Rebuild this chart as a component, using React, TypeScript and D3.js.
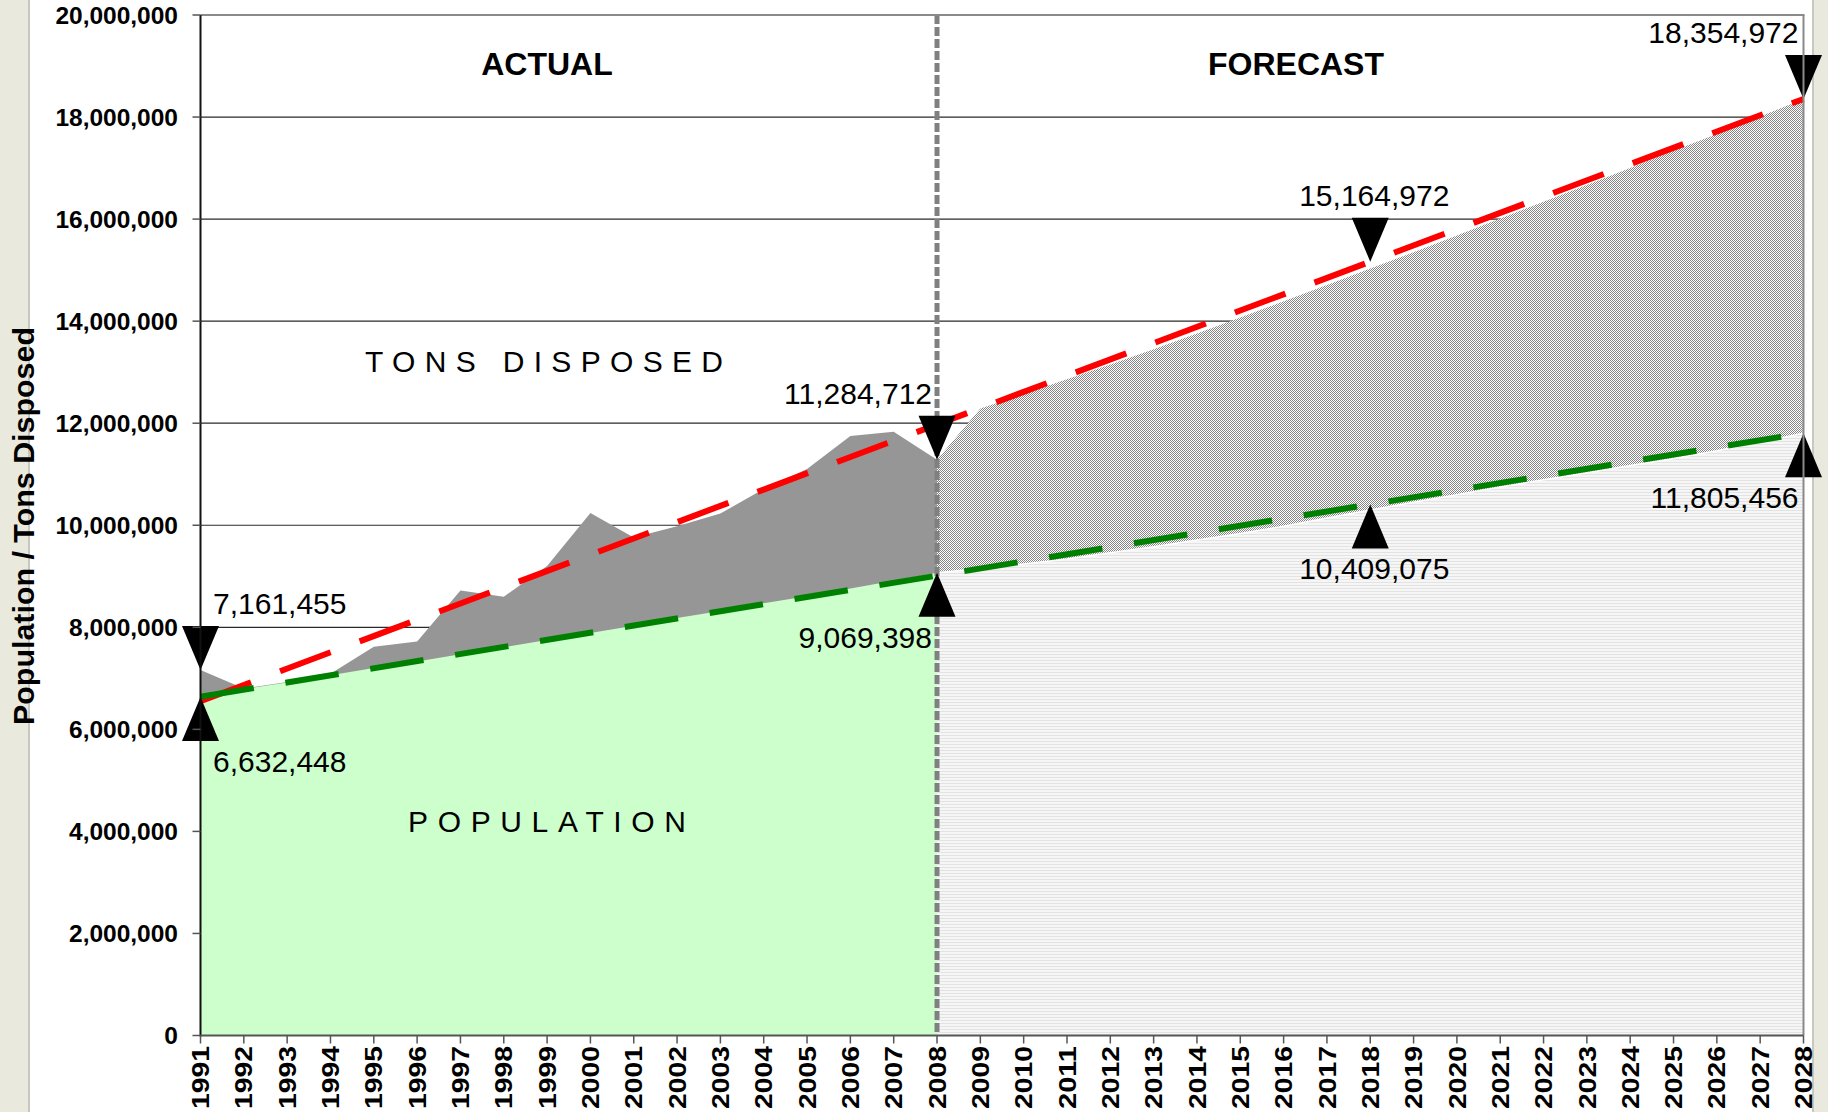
import React from "react";
import * as d3 from "d3";

// ---------- data ----------
const actualYears = [1991, 1992, 1993, 1994, 1995, 1996, 1997, 1998, 1999, 2000, 2001, 2002, 2003, 2004, 2005, 2006, 2007, 2008];
const tonsActual = [7161455, 6800000, 6930000, 7090000, 7620000, 7720000, 8720000, 8600000, 9200000, 10240000, 9760000, 9980000, 10230000, 10710000, 11100000, 11750000, 11830000, 11284712];
const popActual = [6632448, 6790000, 6920000, 7060000, 7200000, 7330000, 7470000, 7610000, 7750000, 7890000, 8030000, 8180000, 8320000, 8470000, 8610000, 8760000, 8910000, 9069398];

const forecastYears = [2008, 2009, 2010, 2011, 2012, 2013, 2014, 2015, 2016, 2017, 2018, 2019, 2020, 2021, 2022, 2023, 2024, 2025, 2026, 2027, 2028];
const tonsForecast = [11284712, 12290000, 12570000, 12860000, 13150000, 13450000, 13760000, 14070000, 14390000, 14710000, 15030000, 15350000, 15680000, 16010000, 16340000, 16670000, 17000000, 17340000, 17670000, 18010000, 18354972];
const popForecast = [9069398, 9150000, 9240000, 9340000, 9460000, 9580000, 9710000, 9840000, 9980000, 10140000, 10300000, 10450000, 10600000, 10750000, 10890000, 11030000, 11170000, 11310000, 11460000, 11630000, 11805456];

const trendYears = [1991, 2008, 2018, 2028];
const tonsTrend = [6552000, 11975000, 15164972, 18354972];
const popTrend = [6638848, 9012694, 10409075, 11805456];

const markerYears = [1991, 2008, 2018, 2028];
const markerTons = [7161455, 11284712, 15164972, 18354972];
const markerPop = [6632448, 9069398, 10409075, 11805456];

const allYears = d3.range(1991, 2029);
const yTicks = [0, 2000000, 4000000, 6000000, 8000000, 10000000, 12000000, 14000000, 16000000, 18000000, 20000000];

// ---------- layout ----------
const W = 1828, H = 1112;
const X0 = 200.5, X1 = 1803.5, Y0 = 1035.5, Y1 = 15;
const FONT = "'Liberation Sans', Arial, sans-serif";
const NARROW = "'Liberation Sans Narrow', 'Arial Narrow', 'Liberation Sans', Arial, sans-serif";

export default function App() {
  const x = d3.scaleLinear().domain([1991, 2028]).range([X0, X1]);
  const y = d3.scaleLinear().domain([0, 20000000]).range([Y0, Y1]);
  const fmt = d3.format(",");

  const area = d3.area<[number, number]>().x(d => x(d[0])).y0(y(0)).y1(d => y(d[1]));
  const line = d3.line<[number, number]>().x(d => x(d[0])).y(d => y(d[1]));
  const zip = (a: number[], b: number[]) => a.map((v, i) => [v, b[i]] as [number, number]);

  const triW = 37, triH = 44;

  return (
    <svg width={W} height={H} style={{ position: "absolute", left: 0, top: 0, background: "#fff" }} fontFamily={FONT}>
      <defs>
        <pattern id="hatch" patternUnits="userSpaceOnUse" width="2" height="2">
          <rect width="2" height="2" fill="#ffffff" />
          <rect x="0" y="0" width="1" height="1" fill="#858585" />
          <rect x="1" y="1" width="1" height="1" fill="#858585" />
        </pattern>
        <pattern id="hlines" patternUnits="userSpaceOnUse" width="6" height="3">
          <rect width="6" height="3" fill="#f6f6f6" />
          <rect width="6" height="1" fill="#e3e3e3" />
        </pattern>
      </defs>

      {/* side strips */}
      <rect x={0} y={0} width={28} height={H} fill="#e9e9de" />
      <rect x={28} y={0} width={2} height={H} fill="#c8c8c0" />
      <rect x={1812} y={0} width={2} height={H} fill="#c8c8c0" />
      <rect x={1814} y={0} width={W - 1814} height={H} fill="#e9e9de" />

      {/* gridlines */}
      {yTicks.filter(t => t > 0 && t < 20000000).map(t => (
        <line key={t} x1={X0} x2={X1} y1={y(t)} y2={y(t)} stroke="#2a2a2a" strokeWidth={1.2} />
      ))}

      {/* forecast areas */}
      <path d={area(zip(forecastYears, tonsForecast)) || ""} fill="url(#hatch)" />
      <path d={area(zip(forecastYears, popForecast)) || ""} fill="url(#hlines)" />
      <path d={line(zip(forecastYears, popForecast)) || ""} fill="none" stroke="#ffffff" strokeWidth={1.5} />

      {/* actual areas */}
      <path d={area(zip(actualYears, tonsActual)) || ""} fill="#969696" />
      <path d={area(zip(actualYears, popActual)) || ""} fill="#ccffcc" />

      {/* divider */}
      <line x1={x(2008)} x2={x(2008)} y1={Y1} y2={Y0} stroke="#808080" strokeWidth={5} strokeDasharray="9 3" />

      {/* trend lines */}
      <path d={line(zip(trendYears, tonsTrend)) || ""} fill="none" stroke="#ff0000" strokeWidth={6} strokeDasharray="54 31" />
      <path d={line(zip(trendYears, popTrend)) || ""} fill="none" stroke="#008000" strokeWidth={6} strokeDasharray="54 32" />

      {/* text in plot */}
      <text x={547} y={75} textAnchor="middle" fontWeight="bold" fontSize={32}>ACTUAL</text>
      <text x={1296} y={75} textAnchor="middle" fontWeight="bold" fontSize={32}>FORECAST</text>
      <text x={365} y={372} fontSize={30} fontFamily={NARROW} textLength={358} lengthAdjust="spacing">TONS DISPOSED</text>
      <text x={408} y={832} fontSize={30} fontFamily={NARROW} textLength={278} lengthAdjust="spacing">POPULATION</text>

      {/* markers */}
      {markerYears.map((yr, i) => {
        const cx = x(yr);
        const tT = y(markerTons[i]);
        const tP = y(markerPop[i]);
        const anchor = i === 0 ? "start" : i === 2 ? "middle" : "end";
        const lx = i === 0 ? cx + 12.5 : i === 2 ? cx + 4 : cx - 5;
        return (
          <g key={yr}>
            <path d={`M${cx - triW / 2},${tT - triH} L${cx + triW / 2},${tT - triH} L${cx},${tT} Z`} fill="#000" />
            <path d={`M${cx - triW / 2},${tP + triH} L${cx + triW / 2},${tP + triH} L${cx},${tP} Z`} fill="#000" />
            <text x={lx} y={tT - triH - 12} textAnchor={anchor} fontSize={30}>{fmt(markerTons[i])}</text>
            <text x={lx} y={tP + triH + 31} textAnchor={anchor} fontSize={30}>{fmt(markerPop[i])}</text>
          </g>
        );
      })}

      {/* plot border top/right */}
      <line x1={X0} x2={X1 + 1} y1={Y1} y2={Y1} stroke="#8a8a8a" strokeWidth={2} />
      <line x1={X1} x2={X1} y1={Y1} y2={Y0} stroke="#8a8a8a" strokeWidth={2} />

      {/* y axis */}
      <line x1={X0} x2={X0} y1={Y1} y2={Y0 + 1} stroke="#111" strokeWidth={2} />
      {yTicks.map(t => (
        <g key={t}>
          <line x1={X0 - 8} x2={X0} y1={y(t)} y2={y(t)} stroke="#555" strokeWidth={1.5} />
          <text x={178} y={y(t)} dy="0.36em" textAnchor="end" fontWeight="bold" fontSize={24.5}>{fmt(t)}</text>
        </g>
      ))}

      {/* x axis */}
      <line x1={X0} x2={X1} y1={Y0} y2={Y0} stroke="#555" strokeWidth={2} />
      {allYears.map(yr => (
        <g key={yr}>
          <line x1={x(yr)} x2={x(yr)} y1={Y0} y2={Y0 + 8} stroke="#555" strokeWidth={1.5} />
          <text transform={`translate(${x(yr)},1046) rotate(-90)`} dy="0.36em" textAnchor="end" fontWeight="bold" fontSize={24} textLength={63} lengthAdjust="spacingAndGlyphs">{yr}</text>
        </g>
      ))}

      {/* y title */}
      <text transform={`translate(34,526) rotate(-90)`} textAnchor="middle" fontWeight="bold" fontSize={29} textLength={398} lengthAdjust="spacingAndGlyphs">Population / Tons Disposed</text>
    </svg>
  );
}
